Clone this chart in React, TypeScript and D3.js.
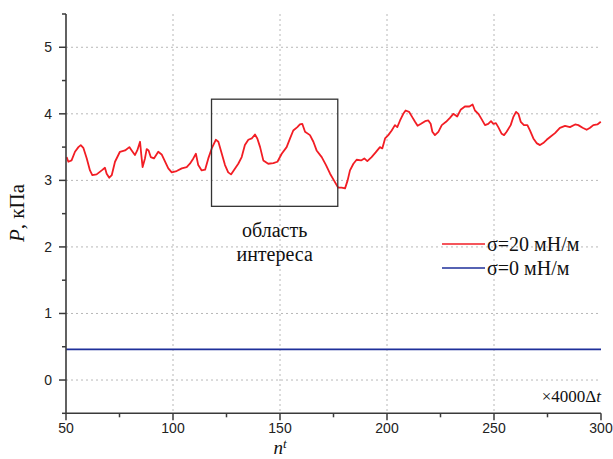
import React from "react";
import * as d3 from "d3";

const redX = [50.3,51.1,52.6,54.2,55.8,56.9,58.1,59.7,61.2,62.3,64.3,66.7,68.2,69.0,70.2,71.4,72.9,75.2,77.6,79.6,80.7,82.2,83.3,84.6,85.2,85.8,86.9,87.7,88.6,89.6,91.1,93.1,94.7,96.3,97.8,99.4,101.7,104.1,106.4,107.9,109.5,110.7,111.8,113.4,115.0,116.5,118.1,120.0,121.2,122.8,124.3,125.8,127.1,129.0,130.5,132.1,133.6,135.2,136.8,138.3,139.4,140.7,142.2,144.5,146.9,148.8,150.8,153.1,154.7,156.2,158.1,159.3,160.4,161.7,164.0,165.6,167.1,169.5,171.5,173.4,175.2,177.2,178.8,180.4,181.6,182.7,184.3,185.8,187.9,189.4,190.8,192.8,194.7,196.7,197.8,199.1,200.6,202.2,203.7,204.8,206.1,207.6,208.7,210.3,211.8,213.1,214.3,215.9,217.8,219.3,220.4,221.2,222.4,224.0,225.6,227.6,229.4,231.0,232.8,234.4,236.4,238.5,240.0,241.1,242.7,244.2,245.8,247.3,248.6,249.7,250.9,252.0,253.6,254.7,255.9,257.8,259.0,260.3,261.4,262.5,264.0,265.6,266.8,268.4,269.9,271.5,273.0,274.6,276.5,278.5,280.8,283.2,285.5,287.9,289.4,291.4,293.3,294.9,296.4,298.3,299.9];
const redY = [3.35,3.28,3.30,3.43,3.50,3.53,3.49,3.33,3.15,3.08,3.09,3.15,3.19,3.10,3.04,3.08,3.28,3.43,3.45,3.50,3.45,3.38,3.45,3.58,3.38,3.20,3.33,3.47,3.45,3.35,3.33,3.43,3.39,3.28,3.18,3.12,3.14,3.18,3.20,3.25,3.33,3.40,3.23,3.15,3.16,3.33,3.48,3.61,3.58,3.40,3.23,3.12,3.09,3.18,3.25,3.35,3.53,3.61,3.63,3.69,3.63,3.50,3.30,3.25,3.26,3.28,3.40,3.50,3.63,3.75,3.80,3.84,3.85,3.73,3.68,3.58,3.45,3.35,3.23,3.10,3.00,2.89,2.89,2.88,3.00,3.15,3.25,3.31,3.30,3.33,3.29,3.35,3.42,3.50,3.48,3.63,3.68,3.75,3.83,3.80,3.90,4.00,4.05,4.03,3.95,3.88,3.82,3.85,3.89,3.90,3.85,3.73,3.68,3.73,3.83,3.88,3.94,4.00,3.96,4.06,4.11,4.11,4.14,4.05,4.00,3.92,3.83,3.85,3.89,3.85,3.86,3.80,3.70,3.68,3.73,3.83,3.95,4.03,4.00,3.88,3.83,3.83,3.75,3.63,3.56,3.53,3.56,3.61,3.66,3.71,3.79,3.82,3.80,3.84,3.83,3.79,3.76,3.79,3.83,3.84,3.88];
const blueX = [50, 300];
const blueY = [0.46, 0.46];
const xTicks = [50, 100, 150, 200, 250, 300];
const xMinor = [75, 125, 175, 225, 275];
const yTicks = [0, 1, 2, 3, 4, 5];
const yMinor = [-0.5, 0.5, 1.5, 2.5, 3.5, 4.5, 5.5];
const xGrid = [100, 150, 200, 250];
const boxX = [118, 177];
const boxY = [2.61, 4.22];
const legendLabels = ["σ=20 мН/м", "σ=0 мН/м"];

export default function App() {
  const W = 613, H = 459;
  const x = d3.scaleLinear().domain([50, 300]).range([66, 601]);
  const y = d3.scaleLinear().domain([-0.5, 5.5]).range([413.3, 14]);
  const line = d3.line<[number, number]>().x(d => x(d[0])).y(d => y(d[1]));
  const red = redX.map((v, i) => [v, redY[i]] as [number, number]);
  const blue = blueX.map((v, i) => [v, blueY[i]] as [number, number]);
  const axisColor = "#3a3a3a";
  const tickFont = "'Liberation Sans', Arial, sans-serif";
  const serif = "'Liberation Serif', 'Times New Roman', serif";
  return (
    <svg width={W} height={H} style={{ position: "absolute", left: 0, top: 0, background: "#fff" }}>
      <rect x={0} y={0} width={W} height={H} fill="#fff" />
      {yTicks.map(t => (
        <line key={"hg" + t} x1={x(50)} x2={x(300)} y1={y(t)} y2={y(t)} stroke="#b8b8b8" strokeWidth={1} strokeDasharray="2,3" />
      ))}
      {xGrid.map(t => (
        <line key={"vg" + t} x1={x(t)} x2={x(t)} y1={y(5.5)} y2={y(-0.5)} stroke="#b8b8b8" strokeWidth={1} strokeDasharray="2,3" />
      ))}
      <path d={line(blue) || ""} fill="none" stroke="#1e2f9a" strokeWidth={1.6} />
      <path d={line(red) || ""} fill="none" stroke="#f21d24" strokeWidth={1.8} strokeLinejoin="round" />
      <rect x={x(boxX[0])} y={y(boxY[1])} width={x(boxX[1]) - x(boxX[0])} height={y(boxY[0]) - y(boxY[1])} fill="none" stroke="#333" strokeWidth={1.3} />
      <text x={(x(boxX[0]) + x(boxX[1])) / 2} y={237} textAnchor="middle" fontFamily={serif} fontSize={20} fill="#111">область</text>
      <text x={(x(boxX[0]) + x(boxX[1])) / 2} y={261} textAnchor="middle" fontFamily={serif} fontSize={20} fill="#111">интереса</text>
      <line x1={x(50)} x2={x(50)} y1={y(5.5)} y2={y(-0.5)} stroke={axisColor} strokeWidth={1.6} />
      <line x1={x(50)} x2={x(300)} y1={y(-0.5)} y2={y(-0.5)} stroke={axisColor} strokeWidth={1.6} />
      {yTicks.map(t => (
        <g key={"yt" + t}>
          <line x1={x(50) - 7} x2={x(50)} y1={y(t)} y2={y(t)} stroke={axisColor} strokeWidth={1.5} />
          <text x={52} y={y(t) + 5} textAnchor="end" fontFamily={tickFont} fontSize={14} fill="#222">{t}</text>
        </g>
      ))}
      {yMinor.map(t => (
        <line key={"ym" + t} x1={x(50) - 4} x2={x(50)} y1={y(t)} y2={y(t)} stroke={axisColor} strokeWidth={1.5} />
      ))}
      {xTicks.map(t => (
        <g key={"xt" + t}>
          <line x1={x(t)} x2={x(t)} y1={y(-0.5)} y2={y(-0.5) + 7} stroke={axisColor} strokeWidth={1.5} />
          <text x={x(t)} y={433} textAnchor="middle" fontFamily={tickFont} fontSize={14} fill="#222">{t}</text>
        </g>
      ))}
      {xMinor.map(t => (
        <line key={"xm" + t} x1={x(t)} x2={x(t)} y1={y(-0.5)} y2={y(-0.5) + 4} stroke={axisColor} strokeWidth={1.5} />
      ))}
      <text x={601} y={402} textAnchor="end" fontFamily={serif} fontSize={17} fill="#111">
        ×4000Δ<tspan fontStyle="italic">t</tspan>
      </text>
      <text x={280} y={454} textAnchor="middle" fontFamily={serif} fontSize={19} fill="#111">
        <tspan fontStyle="italic">n</tspan>
        <tspan fontStyle="italic" fontSize={13} dy={-6}>t</tspan>
      </text>
      <text transform="translate(24,213) rotate(-90)" textAnchor="middle" fontFamily={serif} fontSize={21} fill="#111">
        <tspan fontStyle="italic">P</tspan>, кПа
      </text>
      <line x1={442} x2={485} y1={244} y2={244} stroke="#f21d24" strokeWidth={1.6} />
      <text x={487} y={251} fontFamily={serif} fontSize={20} fill="#111">{legendLabels[0]}</text>
      <line x1={442} x2={485} y1={268} y2={268} stroke="#1e2f9a" strokeWidth={1.6} />
      <text x={487} y={275} fontFamily={serif} fontSize={20} fill="#111">{legendLabels[1]}</text>
    </svg>
  );
}
